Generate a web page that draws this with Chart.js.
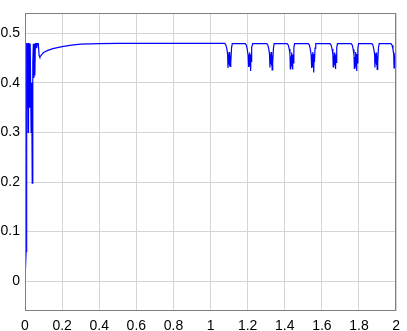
<!DOCTYPE html>
<html>
<head>
<meta charset="utf-8">
<script src="https://cdn.jsdelivr.net/npm/chart.js@4/dist/chart.umd.min.js"></script>
<style>
  body { margin: 0; background: #fff; }
</style>
</head>
<body>
<canvas id="miGrafica" width="407" height="331"></canvas>
<script>
// tiempo (s) y valor
const tiempo = [
  0, 0.003, 0.006, 0.009, 0.011, 0.013, 0.015, 0.017, 0.019, 0.022, 0.025, 0.028, 0.031,
  0.033, 0.036, 0.039, 0.042, 0.045, 0.048, 0.050, 0.053, 0.056, 0.060, 0.063, 0.066, 0.072,
  0.076, 0.080, 0.090, 0.100, 0.120, 0.150, 0.200, 0.250, 0.300, 0.400, 0.500,
  1.077, 1.083, 1.088, 1.092, 1.094, 1.096, 1.098, 1.100, 1.102, 1.104, 1.106, 1.108, 1.110, 1.113, 1.117,
  1.187, 1.193, 1.198, 1.202, 1.204, 1.206, 1.208, 1.210, 1.212, 1.214, 1.216, 1.218, 1.220, 1.223, 1.227,
  1.303, 1.309, 1.314, 1.318, 1.320, 1.322, 1.324, 1.326, 1.328, 1.330, 1.332, 1.334, 1.336, 1.339, 1.343,
  1.413, 1.419, 1.424, 1.428, 1.430, 1.432, 1.434, 1.436, 1.438, 1.440, 1.442, 1.444, 1.446, 1.449, 1.453,
  1.527, 1.533, 1.538, 1.542, 1.544, 1.546, 1.548, 1.550, 1.552, 1.554, 1.556, 1.558, 1.560, 1.563, 1.567,
  1.644, 1.650, 1.655, 1.659, 1.661, 1.663, 1.665, 1.667, 1.669, 1.671, 1.673, 1.675, 1.677, 1.680, 1.684,
  1.758, 1.764, 1.769, 1.773, 1.775, 1.777, 1.779, 1.781, 1.783, 1.785, 1.787, 1.789, 1.791, 1.794, 1.798,
  1.869, 1.875, 1.880, 1.884, 1.886, 1.888, 1.890, 1.892, 1.894, 1.896, 1.898, 1.900, 1.902, 1.905, 1.909,
  1.972, 1.978, 1.983, 1.987, 1.989, 1.991, 1.993, 1.995, 1.997, 1.999, 2.000
];
const valor = [
  0, 0, 0.06, 0.479, 0.479, 0.35, 0.479, 0.30, 0.479, 0.479, 0.35, 0.479, 0.479,
  0.30, 0.40, 0.198, 0.44, 0.479, 0.41, 0.479, 0.415, 0.479, 0.479, 0.47, 0.479, 0.479,
  0.455, 0.452, 0.457, 0.461, 0.465, 0.469, 0.473, 0.476, 0.478, 0.479, 0.4795,
  0.4795, 0.476, 0.468, 0.458, 0.430, 0.452, 0.437, 0.462, 0.434, 0.458, 0.433, 0.455, 0.440, 0.470, 0.479,
  0.479, 0.476, 0.467, 0.457, 0.432, 0.453, 0.440, 0.461, 0.436, 0.457, 0.424, 0.454, 0.442, 0.471, 0.479,
  0.479, 0.476, 0.468, 0.457, 0.431, 0.452, 0.438, 0.462, 0.435, 0.458, 0.426, 0.455, 0.441, 0.470, 0.479,
  0.479, 0.476, 0.468, 0.458, 0.428, 0.453, 0.439, 0.461, 0.436, 0.457, 0.427, 0.454, 0.440, 0.471, 0.479,
  0.479, 0.476, 0.467, 0.457, 0.430, 0.452, 0.437, 0.462, 0.434, 0.458, 0.421, 0.455, 0.442, 0.470, 0.479,
  0.479, 0.476, 0.468, 0.458, 0.432, 0.453, 0.439, 0.461, 0.436, 0.457, 0.428, 0.454, 0.441, 0.471, 0.479,
  0.479, 0.476, 0.467, 0.457, 0.429, 0.452, 0.438, 0.462, 0.435, 0.458, 0.424, 0.455, 0.440, 0.470, 0.479,
  0.479, 0.476, 0.468, 0.458, 0.431, 0.453, 0.439, 0.461, 0.436, 0.457, 0.427, 0.454, 0.441, 0.471, 0.479,
  0.479, 0.476, 0.468, 0.458, 0.430, 0.452, 0.438, 0.461, 0.435, 0.457, 0.432
];
const ticksX = [0, 0.2, 0.4, 0.6, 0.8, 1, 1.2, 1.4, 1.6, 1.8, 2];
const ticksY = [0, 0.1, 0.2, 0.3, 0.4, 0.5];

// marco completo alrededor del area del grafico
const marco = {
  id: 'marco',
  afterDraw(chart) {
    const { ctx, chartArea: a } = chart;
    ctx.save();
    ctx.strokeStyle = '#808080';
    ctx.lineWidth = 1;
    ctx.strokeRect(Math.round(a.left) + 0.5, Math.round(a.top) + 0.5,
      Math.round(a.right - a.left) - 1, Math.round(a.bottom - a.top) - 1);
    ctx.restore();
  }
};

const fuente = { family: 'Liberation Sans, Arial, sans-serif', size: 14 };

new Chart(document.getElementById('miGrafica').getContext('2d'), {
  type: 'line',
  data: {
    datasets: [{
      data: tiempo.map((t, i) => ({ x: t, y: valor[i] })),
      borderColor: 'rgb(0, 0, 255)',
      borderWidth: 1.2,
      pointRadius: 0,
      tension: 0,
      fill: false
    }]
  },
  options: {
    responsive: false,
    animation: false,
    layout: { padding: { top: 2, right: 4, left: 0, bottom: 0 } },
    plugins: { legend: { display: false }, tooltip: { enabled: false } },
    scales: {
      x: {
        type: 'linear',
        min: 0,
        max: 2,
        afterBuildTicks: s => { s.ticks = ticksX.map(v => ({ value: v })); },
        afterFit: s => { s.height = 20; },
        ticks: { font: fuente, color: '#000', padding: 7, maxRotation: 0, callback: v => String(v) },
        grid: { color: '#d4d4d4', drawTicks: false },
        border: { display: false }
      },
      y: {
        min: -0.06,
        max: 0.54,
        afterBuildTicks: s => { s.ticks = ticksY.map(v => ({ value: v })); },
        afterFit: s => { s.width = 25; },
        ticks: { font: fuente, color: '#000', padding: 5, callback: v => String(v) },
        grid: { color: '#d4d4d4', drawTicks: false },
        border: { display: false }
      }
    }
  },
  plugins: [marco]
});
</script>
</body>
</html>
